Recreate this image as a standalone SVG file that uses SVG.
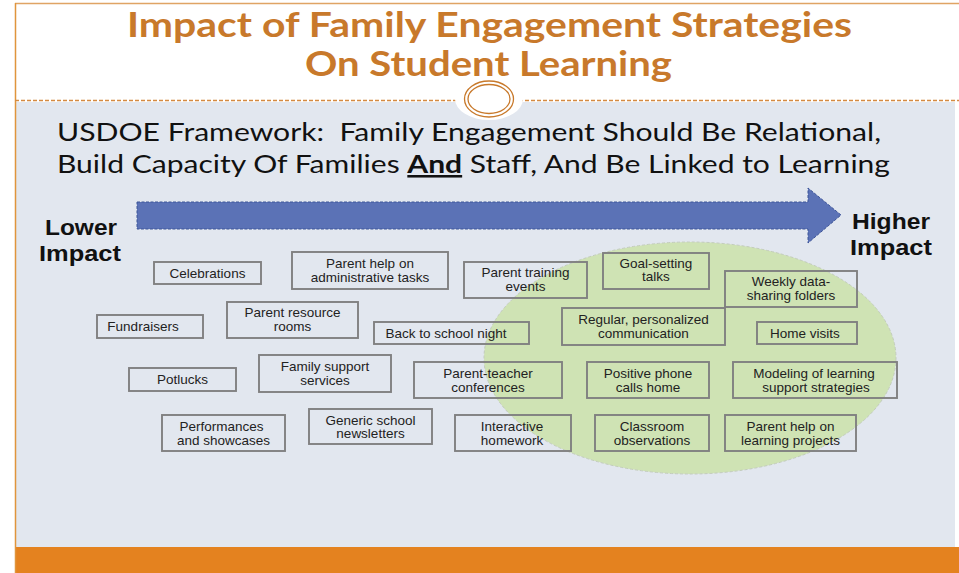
<svg xmlns="http://www.w3.org/2000/svg" width="959" height="573" viewBox="0 0 959 573">
<style>
.box{fill:none;stroke:#808080;stroke-width:1.9}
.bt{font-family:"Liberation Sans",Arial,sans-serif;font-size:13.5px;fill:#222;text-anchor:middle}
.imp{font-family:"Liberation Sans",Arial,sans-serif;font-size:22px;font-weight:bold;fill:#111}
.title{font-family:Lato,"Open Sans",sans-serif;font-size:34px;font-weight:bold;fill:#c8792b}
.sub{font-family:Lato,"Open Sans",sans-serif;font-size:25.5px;fill:#111;white-space:pre}
</style>
<rect x="0" y="0" width="959" height="573" fill="#ffffff"/>
<rect x="16" y="102" width="939" height="446" fill="#e2e7ef"/>
<rect x="15" y="547" width="944" height="26" fill="#e4821f"/>
<line x1="15" y1="3.5" x2="959" y2="3.5" stroke="#e0a464" stroke-width="1.5"/>
<line x1="15.5" y1="3" x2="15.5" y2="573" stroke="#e0953c" stroke-width="1.5"/>
<line x1="15" y1="100.5" x2="959" y2="100.5" stroke="#d48a42" stroke-width="1.5" stroke-dasharray="4 2"/>
<ellipse cx="489" cy="99" rx="34" ry="21" fill="#ffffff"/>
<ellipse cx="489" cy="99" rx="24.5" ry="18" fill="none" stroke="#c8792b" stroke-width="1.3"/>
<ellipse cx="489" cy="99" rx="21" ry="14.5" fill="none" stroke="#c8792b" stroke-width="1.3"/>
<text class="title" x="127" y="37" textLength="725" lengthAdjust="spacingAndGlyphs">Impact of Family Engagement Strategies</text>
<text class="title" x="305" y="76" textLength="367" lengthAdjust="spacingAndGlyphs">On Student Learning</text>
<text class="sub" x="57" y="141" textLength="824" lengthAdjust="spacingAndGlyphs">USDOE Framework:  Family Engagement Should Be Relational,</text>
<text class="sub" x="57" y="173" textLength="833" lengthAdjust="spacingAndGlyphs">Build Capacity Of Families <tspan font-weight="bold" text-decoration="underline">And</tspan> Staff, And Be Linked to Learning</text>
<ellipse cx="690" cy="358" rx="206" ry="116" fill="#cfe3b4" stroke="#c3ccbc" stroke-width="1" stroke-dasharray="3 2"/>
<g id="arrow">
<polygon points="137,202 808,202 808,188 841,215 808,243 808,229 137,229" fill="#5b72b6" stroke="#3d5497" stroke-width="1" stroke-dasharray="3 1.5"/>
</g>
<text class="imp" x="45" y="235" textLength="72" lengthAdjust="spacingAndGlyphs">Lower</text>
<text class="imp" x="39" y="261" textLength="82" lengthAdjust="spacingAndGlyphs">Impact</text>
<text class="imp" x="852" y="229" textLength="78" lengthAdjust="spacingAndGlyphs">Higher</text>
<text class="imp" x="850" y="255" textLength="82" lengthAdjust="spacingAndGlyphs">Impact</text>
<g id="connectors"></g>
<g id="n-celebrations"><rect class="box" x="154" y="262" width="107" height="22"/><text class="bt" x="207.5" y="277.5">Celebrations</text></g>
<g id="n-admin"><rect class="box" x="292" y="252" width="156" height="37"/><text class="bt" x="370" y="268">Parent help on</text><text class="bt" x="370" y="281.5">administrative tasks</text></g>
<g id="n-training"><rect class="box" x="464" y="262" width="123" height="36"/><text class="bt" x="525.5" y="277">Parent training</text><text class="bt" x="525.5" y="290.5">events</text></g>
<g id="n-goal"><rect class="box" x="603" y="253" width="106" height="36"/><text class="bt" x="656" y="267.5">Goal-setting</text><text class="bt" x="656" y="281">talks</text></g>
<g id="n-weekly"><rect class="box" x="725" y="271" width="132" height="36"/><text class="bt" x="791" y="286">Weekly data-</text><text class="bt" x="791" y="299.5">sharing folders</text></g>
<g id="n-fundraisers"><rect class="box" x="97" y="315" width="106" height="23"/><text class="bt" x="143" y="331">Fundraisers</text></g>
<g id="n-resource"><rect class="box" x="227" y="302" width="131" height="36"/><text class="bt" x="292.5" y="317">Parent resource</text><text class="bt" x="292.5" y="330.5">rooms</text></g>
<g id="n-backtoschool"><rect class="box" x="374" y="322" width="155" height="22"/><text class="bt" x="446" y="337.5">Back to school night</text></g>
<g id="n-regular"><rect class="box" x="562" y="308" width="163" height="37"/><text class="bt" x="643.5" y="324">Regular, personalized</text><text class="bt" x="643.5" y="337.5">communication</text></g>
<g id="n-homevisits"><rect class="box" x="757" y="322" width="100" height="22"/><text class="bt" x="805" y="337.5">Home visits</text></g>
<g id="n-potlucks"><rect class="box" x="129" y="368" width="107" height="23"/><text class="bt" x="182.5" y="384">Potlucks</text></g>
<g id="n-familysupport"><rect class="box" x="259" y="355" width="132" height="37"/><text class="bt" x="325" y="371">Family support</text><text class="bt" x="325" y="384.5">services</text></g>
<g id="n-ptconf"><rect class="box" x="414" y="362" width="148" height="36"/><text class="bt" x="488" y="378">Parent-teacher</text><text class="bt" x="488" y="391.5">conferences</text></g>
<g id="n-phone"><rect class="box" x="587" y="362" width="122" height="36"/><text class="bt" x="648" y="378">Positive phone</text><text class="bt" x="648" y="391.5">calls home</text></g>
<g id="n-modeling"><rect class="box" x="733" y="362" width="164" height="36"/><text class="bt" x="814" y="378">Modeling of learning</text><text class="bt" x="816" y="391.5">support strategies</text></g>
<g id="n-performances"><rect class="box" x="162" y="415" width="123" height="36"/><text class="bt" x="221.5" y="431">Performances</text><text class="bt" x="223.5" y="444.5">and showcases</text></g>
<g id="n-newsletters"><rect class="box" x="309" y="409" width="123" height="35"/><text class="bt" x="370.5" y="424.5">Generic school</text><text class="bt" x="370.5" y="438">newsletters</text></g>
<g id="n-homework"><rect class="box" x="455" y="415" width="116" height="36"/><text class="bt" x="512" y="431">Interactive</text><text class="bt" x="512" y="444.5">homework</text></g>
<g id="n-classroom"><rect class="box" x="595" y="415" width="114" height="36"/><text class="bt" x="652" y="431">Classroom</text><text class="bt" x="652" y="444.5">observations</text></g>
<g id="n-learningprojects"><rect class="box" x="725" y="415" width="131" height="36"/><text class="bt" x="790.5" y="431">Parent help on</text><text class="bt" x="790.5" y="444.5">learning projects</text></g>
</svg>
